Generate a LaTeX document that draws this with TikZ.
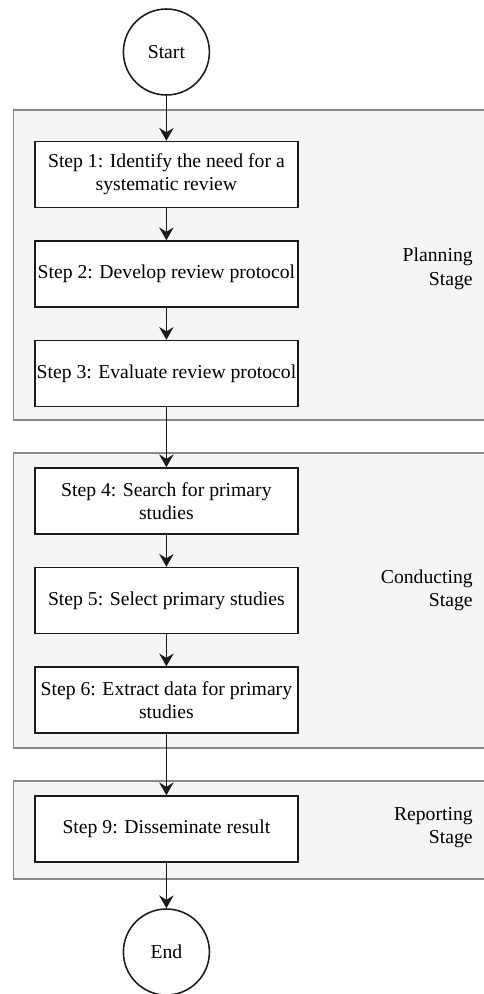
\documentclass[tikz,border=0pt]{standalone}
\usepackage{fontspec}
\setmainfont{Liberation Serif}
\usepackage{tikz}
\usetikzlibrary{arrows.meta,positioning,shapes.geometric}
\definecolor{ink}{HTML}{1A1A1A}
\definecolor{lane}{HTML}{F5F5F5}
\definecolor{laneline}{HTML}{8A8A8A}
\newcommand{\txt}{\fontsize{14}{16.4}\selectfont}
\tikzset{
  stepbox/.style={draw=ink,line width=1.1pt,fill=white,align=center,font=\txt,inner sep=1pt,minimum width=6.575cm,minimum height=1.65cm},
  term/.style={circle,draw=ink,line width=1.1pt,fill=white,font=\txt,minimum size=2.15cm,inner sep=0pt},
  stage/.style={draw=laneline,line width=1.1pt,fill=lane,minimum width=12cm,anchor=north west,inner sep=0pt},
  arr/.style={-{Stealth[length=3.2mm,width=3.6mm,inset=1.1mm]},line width=1.1pt,color=ink},
  lbl/.style={font=\txt,align=right,anchor=east,inner sep=0pt}}
\begin{document}
\begin{tikzpicture}[node distance=0.8cm]
\useasboundingbox (0,0) rectangle (12.1,-24.85);
% stages
\node[stage,minimum height=7.75cm] (plan) at (0.3125,-2.725) {};
\node[stage,minimum height=7.375cm] (cond) at (0.3125,-11.3) {};
\node[stage,minimum height=2.45cm] (rep) at (0.3125,-19.5) {};
\node[lbl] (planlbl) at (11.825,-6.72) {Planning\\Stage};
\node[lbl] (condlbl) at (11.825,-14.75) {Conducting\\Stage};
\node[lbl] (replbl) at (11.825,-20.68) {Reporting\\Stage};
% steps
\node[term] (start) at (4.16,-1.3) {Start};
\node[stepbox] (s1) at (4.16,-4.3625) {Step 1: Identify the need for a\\systematic review};
\node[stepbox,below=of s1] (s2) {Step 2: Develop review protocol};
\node[stepbox,below=of s2] (s3) {Step 3: Evaluate review protocol};
\node[stepbox] (s4) at (4.16,-12.525) {Step 4: Search for primary\\studies};
\node[stepbox,below=of s4] (s5) {Step 5: Select primary studies};
\node[stepbox,below=of s5] (s6) {Step 6: Extract data for primary\\studies};
\node[stepbox] (s9) at (4.16,-20.725) {Step 9: Disseminate result};
\node[term] (end) at (4.16,-23.8) {End};
\draw[arr] (start) -- (s1); \draw[arr] (s1) -- (s2); \draw[arr] (s2) -- (s3);
\draw[arr] (s3) -- (s4); \draw[arr] (s4) -- (s5); \draw[arr] (s5) -- (s6);
\draw[arr] (s6) -- (s9); \draw[arr] (s9) -- (end);
\end{tikzpicture}
\end{document}
